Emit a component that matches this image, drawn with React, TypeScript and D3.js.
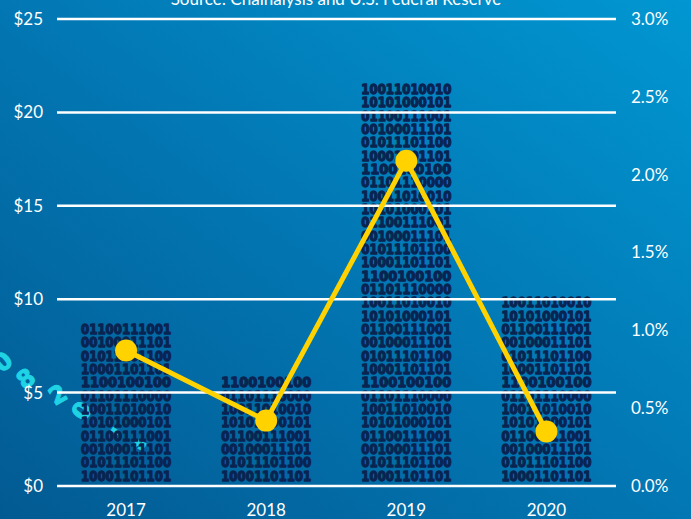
import React from "react";
import * as d3 from "d3";

const years = ["2017", "2018", "2019", "2020"];
const illicitValue = [8.6, 5.7, 21.4, 10.0]; // $ billions
const illicitShare = [0.87, 0.42, 2.09, 0.35]; // % of all activity
const leftTicks = [0, 5, 10, 15, 20, 25];
const rightTicks = [0, 0.5, 1, 1.5, 2, 2.5, 3];
const binaryRows = [
  "10001101101",
  "01011101100",
  "00100011101",
  "01100111001",
  "10101000101",
  "10011010010",
  "01101110000",
  "1100100100",
];
const title = "Source: Chainalysis and U.S. Federal Reserve";

const W = 691;
const H = 519;
const M = { left: 56, right: 75, top: 19, bottom: 33 };
const ROW_H = 13.33;

const deco = [
  { t: "0", x: 3, y: 370, r: -40 },
  { t: "8", x: 26, y: 387, r: -35 },
  { t: "2", x: 58, y: 403, r: -30 },
  { t: "0", x: 82, y: 419, r: -55 },
  { t: "-", x: 116, y: 438, r: 35 },
  { t: "\u201D", x: 137, y: 458, r: 25 },
];

export default function App() {
  const x = d3
    .scaleBand<string>()
    .domain(years)
    .range([M.left, W - M.right + 0.5])
    .padding(0);
  const yL = d3.scaleLinear().domain([0, 25]).range([H - M.bottom, M.top]);
  const yR = d3.scaleLinear().domain([0, 3]).range([H - M.bottom, M.top]);
  const line = d3
    .line<number>()
    .x((_, i) => (x(years[i]) as number) + x.bandwidth() / 2)
    .y((d) => yR(d));

  const textW = 90;
  const font = "Lato, 'Open Sans', sans-serif";
  const binFont = "'DejaVu Sans', sans-serif";

  return (
    <div style={{ position: "fixed", left: 0, top: 0, width: W, height: H }}>
      <svg width={W} height={H} style={{ display: "block" }}>
        <defs>
          <linearGradient id="bg" x1="0" y1="1" x2="1" y2="0">
            <stop offset="0" stopColor="#035a92" />
            <stop offset="0.5" stopColor="#0277b3" />
            <stop offset="1" stopColor="#0197d2" />
          </linearGradient>
        </defs>
        <rect width={W} height={H} fill="url(#bg)" />

        {deco.map((d, i) => (
          <text
            key={i}
            x={d.x}
            y={d.y}
            fill="#1fd3e4"
            stroke="#1fd3e4"
            strokeWidth={1}
            fontFamily={binFont}
            fontWeight={700}
            fontSize={24}
            textAnchor="middle"
            transform={`rotate(${d.r} ${d.x} ${d.y - 8})`}
          >
            {d.t}
          </text>
        ))}

        <text
          x={336}
          y={5}
          fill="#ffffff"
          fontFamily={font}
          fontSize={17}
          textAnchor="middle"
        >
          {title}
        </text>

        {/* bars of binary text */}
        {illicitValue.map((v, i) => {
          const cx = (x(years[i]) as number) + x.bandwidth() / 2;
          const h = yL(0) - yL(v);
          const n = Math.round(h / ROW_H);
          return (
            <g key={years[i]}>
              {d3.range(n).map((r) => (
                <text
                  key={r}
                  x={cx - textW / 2}
                  y={yL(0) - 5.5 - r * ROW_H}
                  fill="#0a2452"
                  stroke="#0a2452"
                  strokeWidth={1.3}
                  strokeLinejoin="round"
                  fontFamily={binFont}
                  fontWeight={700}
                  fontSize={13.5}
                  textLength={textW}
                  lengthAdjust="spacingAndGlyphs"
                >
                  {binaryRows[r % binaryRows.length]}
                </text>
              ))}
            </g>
          );
        })}

        {/* gridlines */}
        {leftTicks.map((t) => (
          <line
            key={t}
            x1={M.left + 1}
            x2={W - M.right}
            y1={yL(t)}
            y2={yL(t)}
            stroke="#ffffff"
            strokeWidth={2.5}
          />
        ))}

        {/* left axis labels */}
        {leftTicks.map((t) => (
          <text
            key={t}
            x={43}
            y={yL(t)}
            dy="0.35em"
            fill="#ffffff"
            fontFamily={font}
            fontSize={17}
            textAnchor="end"
          >
            {`$${t}`}
          </text>
        ))}

        {/* right axis labels */}
        {rightTicks.map((t) => (
          <text
            key={t}
            x={631}
            y={yR(t)}
            dy="0.35em"
            fill="#ffffff"
            fontFamily={font}
            fontSize={17}
            textAnchor="start"
          >
            {`${t.toFixed(1)}%`}
          </text>
        ))}

        {/* x labels */}
        {years.map((yv) => (
          <text
            key={yv}
            x={(x(yv) as number) + x.bandwidth() / 2}
            y={H - 9}
            fill="#ffffff"
            fontFamily={font}
            fontSize={17}
            textAnchor="middle"
            dy="0.35em"
          >
            {yv}
          </text>
        ))}

        {/* line */}
        <path
          d={line(illicitShare) || ""}
          fill="none"
          stroke="#ffd200"
          strokeWidth={5}
          strokeLinejoin="round"
        />
        {illicitShare.map((p, i) => (
          <circle
            key={i}
            cx={(x(years[i]) as number) + x.bandwidth() / 2}
            cy={yR(p)}
            r={11}
            fill="#ffd200"
          />
        ))}
      </svg>
    </div>
  );
}
